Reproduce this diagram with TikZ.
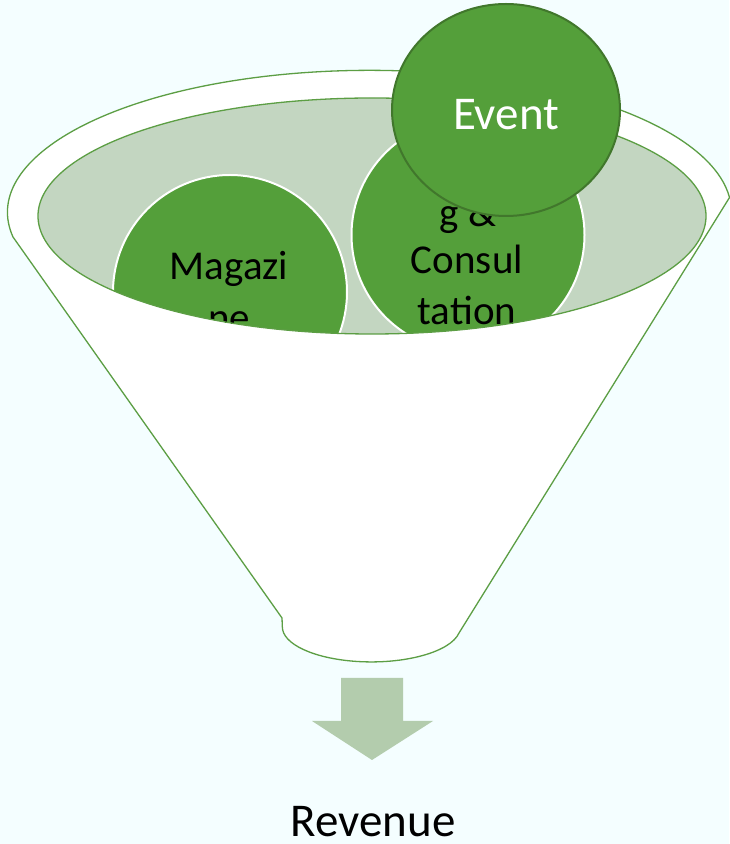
\documentclass[tikz,border=0pt]{standalone}
\usepackage{fontspec}
\setmainfont{Carlito}
\definecolor{bgcol}{HTML}{F4FEFF}
\definecolor{rimline}{HTML}{5C9E44}
\definecolor{cupfill}{HTML}{C3D6C1}
\definecolor{ballfill}{HTML}{549F3A}
\definecolor{ballline}{HTML}{41772C}
\definecolor{arrowfill}{HTML}{B3CCAD}
\tikzset{
  funnelbody/.style={fill=white, draw=rimline, line width=1.3pt, line join=round},
  cup/.style={fill=cupfill, draw=rimline, line width=1.3pt},
  ball/.style={fill=ballfill, draw=white, line width=2pt},
  topball/.style={fill=ballfill, draw=ballline, line width=2pt},
  balltext/.style={anchor=base, font=\fontsize{41}{49}\selectfont, text=black, inner sep=0pt},
  eventtext/.style={anchor=base, font=\fontsize{47}{56}\selectfont, text=white, inner sep=0pt},
  outtext/.style={anchor=base, font=\fontsize{47}{56}\selectfont, text=black, inner sep=0pt},
  downarrow/.style={fill=arrowfill, draw=none}
}
\begin{document}
\begin{tikzpicture}[x=1pt,y=1pt]
  % canvas
  \fill[bgcol] (0,0) rectangle (729,844);
  \useasboundingbox (0,0) rectangle (729,844);

  % funnel: rim on top, straight sides, rounded spout
  \coordinate (rimL) at (13,607);
  \coordinate (spoutR) at (459,211);
  \coordinate (spoutL) at (282,226);
  \draw[funnelbody] (rimL)
      arc[start angle=190, end angle=6, x radius=362, y radius=142]
      -- (spoutR)
      arc[start angle=-10, end angle=-180, x radius=89, y radius=35]
      -- (spoutL) -- cycle;

  % mouth of the funnel
  \coordinate (cupC) at (372,628);
  \fill[cupfill] (cupC) ellipse[x radius=334, y radius=118];

  % balls sitting in the mouth, cut off by its front edge
  \begin{scope}
    \clip (cupC) ellipse[x radius=334, y radius=118];
    \coordinate (magC) at (230,552);
    \coordinate (conC) at (468,609);
    \draw[ball] (magC) circle[radius=117];
    \draw[ball] (conC) circle[radius=116.5];
    \node[balltext] (mag1) at (229,564) {Magazi};
    \node[balltext] (mag2) at (229,512) {ne};
    \node[balltext] (con1) at (468,617) {g \&};
    \node[balltext] (con2) at (467,570) {Consul};
    \node[balltext] (con3) at (467,519) {tation};
  \end{scope}
  \draw[rimline, line width=1.3pt] (cupC) ellipse[x radius=334, y radius=118];

  % ball on top of the pile
  \coordinate (evC) at (506,734);
  \draw[topball] (evC) ellipse[x radius=114, y radius=106];
  \node[eventtext] (ev) at (506,714) {Event};

  % output arrow and label
  \draw[downarrow] (341,166) -- (403,166) -- (403,123) -- (433,123)
      -- (372,84) -- (312,123) -- (341,123) -- cycle;
  \node[outtext] (rev) at (373,7) {Revenue};
\end{tikzpicture}
\end{document}
